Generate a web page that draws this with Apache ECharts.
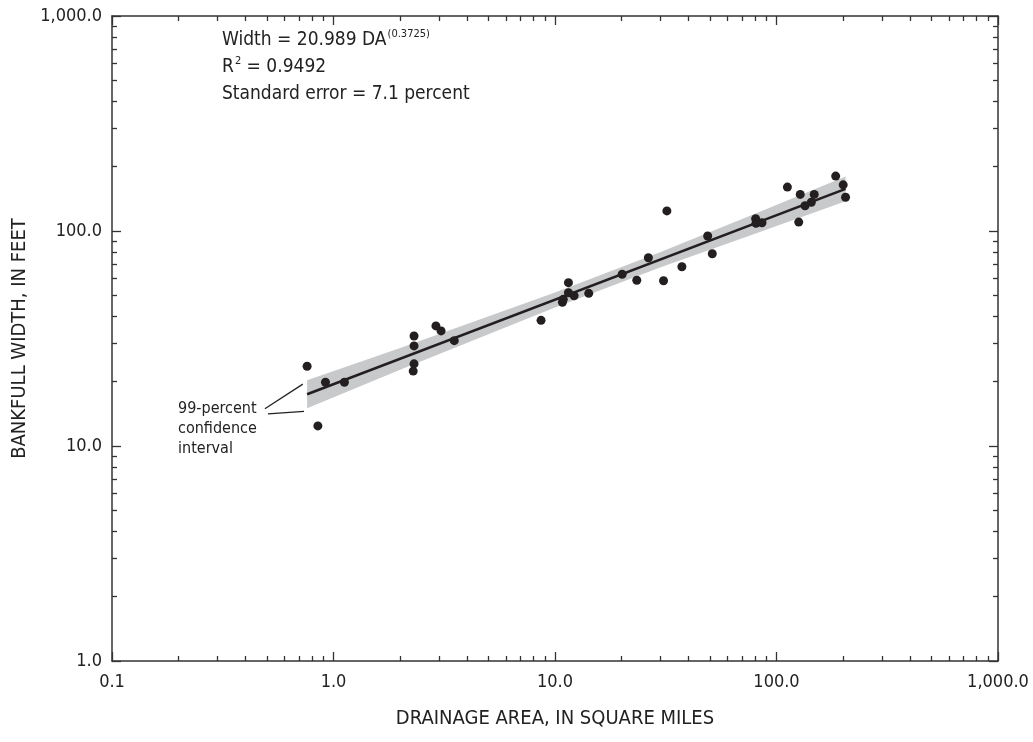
<!DOCTYPE html>
<html lang="en">
<head>
    <meta charset="UTF-8">
    <title>Bankfull width</title>
    <script src="https://cdn.jsdelivr.net/npm/echarts@6/dist/echarts.min.js"></script>
</head>
<body style="margin:0">
<div id="main" style="width: 1033px; height: 742px"></div>
</body>
<script>
    // drainage area (sq mi) and bankfull width (ft) for each site
    let area = [0.76, 0.85, 0.92, 1.12, 2.31, 2.31, 2.31, 2.29, 2.90, 3.06, 3.51,
        8.65, 11.5, 11.5, 10.8, 10.9, 12.2, 14.2, 20.1, 23.4, 26.4, 30.9, 32.0, 37.4,
        48.9, 51.3, 80.5, 80.8, 86.0, 112, 128, 126, 134.5, 143.6, 148, 185, 200, 205];
    let width = [23.5, 12.4, 19.8, 19.8, 32.5, 29.2, 24.1, 22.3, 36.2, 34.3, 30.9,
        38.4, 57.5, 51.6, 46.6, 48.1, 50.0, 51.3, 62.9, 59.0, 75.1, 58.7, 124, 68.2,
        94.8, 78.4, 114, 108.6, 109.3, 160, 148, 110, 131, 136, 148, 180, 164, 143.5];

    // fitted line end points
    let fitX = [0.76, 205];
    let fitY = [17.4, 157];

    // 99-percent confidence band
    let bandX = [0.76, 2, 10, 30, 80, 205];
    let bandUpper = [20.2, 28.6, 51.8, 79.8, 120.4, 179.5];
    let bandLower = [15.0, 22.6, 44.1, 67.9, 97.2, 137.4];

    let xMajor = [0.1, 1, 10, 100, 1000];
    let xTickLabels = ['0.1', '1.0', '10.0', '100.0', '1,000.0'];
    let yMajor = [1, 10, 100, 1000];
    let yTickLabels = ['1.0', '10.0', '100.0', '1,000.0'];

    let minorX = [];
    for (let d = 0.1; d < 1000; d *= 10) {
        for (let k = 2; k <= 9; k++) minorX.push(+(d * k).toPrecision(3));
    }
    let minorY = minorX.filter(v => v > 1);

    let fontNarrow = "'Liberation Sans Narrow', 'DejaVu Sans Condensed', 'Roboto', sans-serif";
    let ink = '#231f20';

    function axis(kind, pos, min, max, major, labels, show, minor) {
        let a = {
            type: 'log', logBase: 10, position: pos, min: min, max: max,
            axisLine: {show: !minor, onZero: false, lineStyle: {color: '#333', width: 1.5}},
            axisTick: {show: true, inside: true, length: minor ? 5 : 9,
                lineStyle: {color: '#333', width: 1.3},
                customValues: minor ? (kind === 'x' ? minorX : minorY) : major},
            axisLabel: {show: show, color: '#222', fontSize: 18, fontFamily: fontNarrow,
                customValues: major, margin: kind === 'x' ? 12 : 10,
                formatter: function (v) {
                    let i = Math.round(Math.log10(v) - Math.log10(min));
                    return labels[i];
                }},
            splitLine: {show: false}
        };
        return a;
    }

    let xAxes = [
        axis('x', 'bottom', 0.1, 1000, xMajor, xTickLabels, true, false),
        axis('x', 'bottom', 0.1, 1000, xMajor, xTickLabels, false, true),
        axis('x', 'top', 0.1, 1000, xMajor, xTickLabels, false, false),
        axis('x', 'top', 0.1, 1000, xMajor, xTickLabels, false, true)
    ];
    xAxes[0].name = 'DRAINAGE AREA, IN SQUARE MILES';
    xAxes[0].nameLocation = 'middle';
    xAxes[0].nameGap = 48;
    xAxes[0].nameTextStyle = {fontSize: 20, color: '#222', fontFamily: fontNarrow};

    let yAxes = [
        axis('y', 'left', 1, 1000, yMajor, yTickLabels, true, false),
        axis('y', 'left', 1, 1000, yMajor, yTickLabels, false, true),
        axis('y', 'right', 1, 1000, yMajor, yTickLabels, false, false),
        axis('y', 'right', 1, 1000, yMajor, yTickLabels, false, true)
    ];
    yAxes[0].name = 'BANKFULL WIDTH, IN FEET';
    yAxes[0].nameLocation = 'middle';
    yAxes[0].nameGap = 82;
    yAxes[0].nameTextStyle = {fontSize: 20, color: '#222', fontFamily: fontNarrow};

    let myChart = echarts.init(document.getElementById('main'));
    let option = {
        animation: false,
        grid: {left: 112, right: 35, top: 16, bottom: 81},
        xAxis: xAxes,
        yAxis: yAxes,
        graphic: [
            {
                type: 'text', left: 222, top: 27,
                style: {
                    text: '{b|Width = 20.989 DA}{s|(0.3725)}\n{b|R}{s|2}{b| = 0.9492}\n{b|Standard error = 7.1 percent}',
                    fill: '#222', font: '19px ' + fontNarrow,
                    rich: {
                        b: {fontSize: 19, fontFamily: fontNarrow, lineHeight: 27, fill: '#222'},
                        s: {fontSize: 11, fontFamily: fontNarrow, lineHeight: 27, verticalAlign: 'top', fill: '#222', padding: [2, 0, 0, 1]}
                    }
                }
            },
            {
                type: 'text', left: 178, top: 399,
                style: {
                    text: '99-percent\nconfidence\ninterval',
                    fill: '#222', font: '16px ' + fontNarrow, lineHeight: 20
                }
            }
        ],
        series: [
            {
                type: 'custom',
                xAxisIndex: 0, yAxisIndex: 0,
                data: [[bandX[0], bandUpper[0]]],
                z: 1,
                renderItem: function (params, api) {
                    let pts = [];
                    for (let i = 0; i < bandX.length; i++) pts.push(api.coord([bandX[i], bandUpper[i]]));
                    for (let i = bandX.length - 1; i >= 0; i--) pts.push(api.coord([bandX[i], bandLower[i]]));
                    return {type: 'polygon', shape: {points: pts}, style: {fill: '#c8c9ca'}};
                }
            },
            {
                type: 'line',
                xAxisIndex: 0, yAxisIndex: 0,
                data: fitX.map((x, i) => [x, fitY[i]]),
                symbol: 'none',
                lineStyle: {color: ink, width: 2.6},
                z: 2
            },
            {
                type: 'scatter',
                xAxisIndex: 0, yAxisIndex: 0,
                data: area.map((x, i) => [x, width[i]]),
                symbolSize: 9,
                itemStyle: {color: ink, opacity: 1},
                z: 3
            },
            { // leader lines for the band label
                type: 'line',
                xAxisIndex: 0, yAxisIndex: 0,
                data: [[0.49, 14.9], [0.727, 19.4]],
                symbol: 'none', silent: true,
                lineStyle: {color: ink, width: 1.2},
                z: 4
            },
            {
                type: 'line',
                xAxisIndex: 0, yAxisIndex: 0,
                data: [[0.506, 14.1], [0.736, 14.5]],
                symbol: 'none', silent: true,
                lineStyle: {color: ink, width: 1.2},
                z: 4
            }
        ]
    };
    myChart.setOption(option);
</script>
</html>
